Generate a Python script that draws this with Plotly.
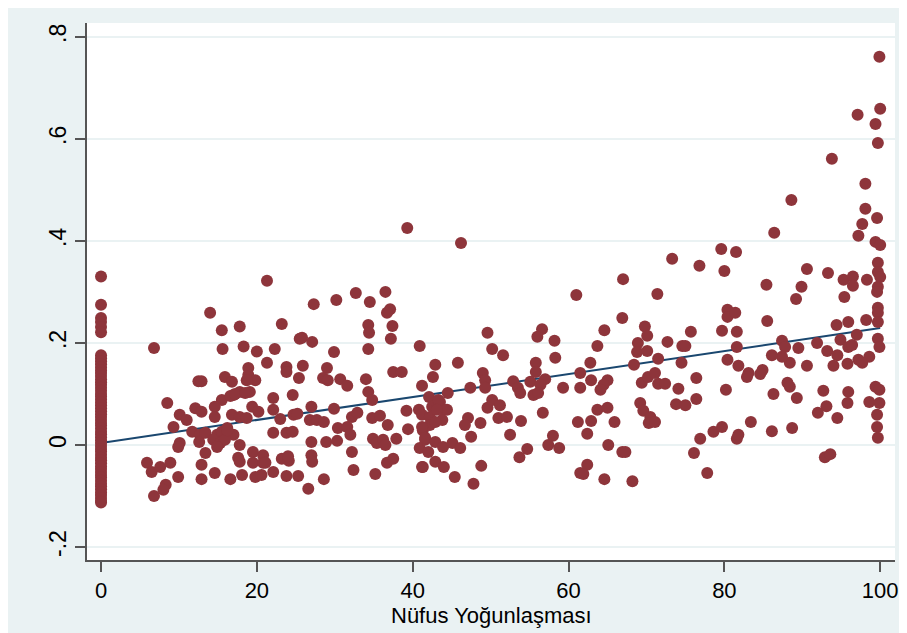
import plotly.graph_objects as go

# ---- data ----
# observations at x = 0
zero_y = [0.330, 0.275, 0.249, 0.241, 0.231, 0.221,
          0.176, 0.170, 0.164, 0.158, 0.152, 0.146, 0.141, 0.135, 0.129, 0.123,
          0.118, 0.112, 0.106, 0.100, 0.095, 0.089, 0.083, 0.078, 0.072, 0.066,
          0.060, 0.055, 0.049, 0.043, 0.038, 0.032, 0.026, 0.021, 0.015, 0.009,
          0.004, -0.002, -0.008, -0.013, -0.019, -0.025, -0.030, -0.036, -0.042,
          -0.047, -0.053, -0.059, -0.064, -0.070, -0.076, -0.081, -0.087, -0.093,
          -0.098, -0.104, -0.110, -0.113]

pts = [
    # x 5-26
    (14.0, 0.259), (15.5, 0.225), (17.8, 0.232), (23.2, 0.237), (6.8, 0.190), (15.6, 0.188),
    (18.3, 0.193), (20.0, 0.183), (22.3, 0.188), (25.5, 0.208), (21.3, 0.161), (23.8, 0.153),
    (23.8, 0.143), (18.9, 0.151), (18.9, 0.137), (19.8, 0.127), (18.7, 0.127), (12.5, 0.125),
    (12.9, 0.125), (15.9, 0.133), (16.8, 0.124), (25.4, 0.131), (22.1, 0.092), (24.6, 0.098),
    (17.8, 0.104), (19.1, 0.104), (17.0, 0.098), (15.5, 0.088), (8.5, 0.082), (12.1, 0.072),
    (12.9, 0.065), (14.6, 0.075), (14.6, 0.055), (16.8, 0.059), (17.8, 0.055), (18.7, 0.053),
    (19.4, 0.075), (20.2, 0.065), (22.1, 0.069), (23.0, 0.051), (24.7, 0.059), (10.1, 0.059),
    (11.0, 0.049), (9.3, 0.035), (11.7, 0.026), (12.7, 0.020), (12.6, 0.006), (10.1, 0.004),
    (9.9, -0.004), (13.4, 0.024), (14.9, 0.020), (15.5, 0.026), (14.4, 0.010), (15.3, 0.004),
    (16.2, 0.033), (17.0, 0.020), (15.9, 0.010), (17.8, 0.000), (22.1, 0.024), (23.8, 0.024),
    (24.6, 0.026), (13.4, -0.016), (12.9, -0.039), (5.9, -0.035), (6.5, -0.053), (7.6, -0.043),
    (8.9, -0.035), (9.9, -0.063), (12.9, -0.067), (14.6, -0.055), (16.6, -0.067), (18.1, -0.059),
    (17.6, -0.025), (17.8, -0.033), (19.5, -0.014), (20.8, -0.020), (19.5, -0.035), (20.8, -0.035),
    (19.8, -0.063), (20.6, -0.059), (22.1, -0.053), (23.2, -0.027), (24.1, -0.031), (23.8, -0.061),
    (25.3, -0.061), (8.3, -0.078), (8.0, -0.088), (6.8, -0.100), (16.6, 0.096), (17.2, 0.100),
    (18.5, 0.102), (14.9, -0.004), (16.2, 0.029), (21.1, -0.035),
    # x 21-42
    (21.3, 0.322), (27.3, 0.276), (30.2, 0.284), (32.7, 0.298), (34.5, 0.280), (36.5, 0.300),
    (37.1, 0.266), (36.7, 0.259), (34.3, 0.235), (34.4, 0.220), (37.4, 0.233), (37.2, 0.208),
    (25.8, 0.210), (27.1, 0.202), (29.9, 0.182), (34.3, 0.188), (40.9, 0.194), (25.9, 0.155),
    (29.0, 0.151), (28.5, 0.131), (29.1, 0.127), (30.7, 0.129), (31.6, 0.116), (34.0, 0.129),
    (37.5, 0.143), (38.6, 0.143), (41.2, 0.116), (34.3, 0.104), (34.8, 0.088), (42.1, 0.094),
    (25.2, 0.061), (27.0, 0.075), (26.8, 0.049), (27.7, 0.049), (28.6, 0.045), (29.9, 0.071),
    (30.4, 0.033), (31.6, 0.035), (32.2, 0.055), (32.9, 0.063), (34.8, 0.053), (35.8, 0.057),
    (36.8, 0.039), (39.2, 0.067), (39.4, 0.031), (40.8, 0.069), (41.2, 0.059), (41.3, 0.029),
    (27.0, 0.006), (28.9, 0.006), (30.3, 0.008), (32.0, 0.020), (34.9, 0.012), (35.4, 0.004),
    (36.2, 0.010), (36.5, 0.000), (37.9, 0.012), (40.9, -0.006), (41.6, 0.010), (24.0, -0.022),
    (27.0, -0.020), (27.1, -0.033), (32.2, -0.014), (36.7, -0.035), (37.5, -0.027), (41.2, -0.043),
    (28.6, -0.067), (32.4, -0.049), (35.2, -0.057), (26.6, -0.086), (39.3, 0.425),
    # x 41-62
    (46.2, 0.396), (61.0, 0.294), (49.6, 0.220), (50.2, 0.188), (51.6, 0.176), (56.6, 0.227),
    (56.0, 0.212), (58.2, 0.204), (58.3, 0.171), (42.9, 0.157), (45.8, 0.161), (42.6, 0.133),
    (55.8, 0.161), (55.8, 0.143), (49.0, 0.141), (49.3, 0.127), (49.3, 0.112), (47.4, 0.112),
    (52.9, 0.125), (53.5, 0.112), (53.8, 0.102), (55.1, 0.124), (57.0, 0.129), (56.4, 0.118),
    (55.5, 0.098), (56.1, 0.102), (59.3, 0.112), (61.5, 0.141), (61.5, 0.112), (44.5, 0.102),
    (43.5, 0.084), (43.9, 0.069), (42.5, 0.075), (42.2, 0.055), (43.8, 0.049), (42.2, 0.039),
    (41.2, 0.035), (41.6, 0.014), (42.9, 0.006), (43.9, -0.004), (45.1, 0.004), (46.1, -0.006),
    (42.0, -0.014), (49.6, 0.073), (50.2, 0.088), (51.2, 0.078), (51.0, 0.053), (52.1, 0.055),
    (47.1, 0.053), (46.7, 0.039), (48.7, 0.043), (53.9, 0.047), (56.7, 0.063), (52.5, 0.020),
    (47.5, 0.016), (58.0, 0.018), (57.4, 0.000), (58.8, -0.006), (54.7, -0.008), (53.7, -0.024),
    (41.3, -0.043), (42.9, -0.033), (44.0, -0.043), (48.8, -0.041), (45.4, -0.063), (47.8, -0.076),
    (61.5, -0.055), (61.2, 0.045), (43.3, 0.088), (44.4, 0.069), (43.1, 0.069), (42.9, 0.045),
    # x 61-81
    (67.0, 0.325), (73.3, 0.365), (76.8, 0.351), (79.6, 0.384), (80.0, 0.341), (71.4, 0.296),
    (66.9, 0.249), (69.8, 0.232), (70.1, 0.214), (64.6, 0.225), (63.7, 0.194), (68.9, 0.200),
    (68.8, 0.182), (70.1, 0.184), (72.7, 0.202), (74.6, 0.194), (75.0, 0.194), (75.7, 0.222),
    (79.7, 0.224), (80.4, 0.265), (80.4, 0.251), (71.5, 0.169), (74.5, 0.161), (68.4, 0.157),
    (80.4, 0.167), (62.8, 0.161), (62.9, 0.127), (65.0, 0.127), (64.5, 0.118), (64.1, 0.108),
    (69.4, 0.122), (70.2, 0.133), (71.1, 0.141), (71.5, 0.120), (72.4, 0.120), (74.1, 0.110),
    (76.4, 0.131), (76.4, 0.090), (73.8, 0.080), (75.0, 0.078), (80.2, 0.108), (69.2, 0.082),
    (69.6, 0.067), (70.5, 0.055), (70.3, 0.043), (71.1, 0.045), (63.7, 0.069), (65.0, 0.073),
    (62.9, 0.047), (65.9, 0.045), (62.4, 0.022), (65.1, 0.000), (66.9, -0.014), (67.3, -0.014),
    (76.9, 0.012), (78.6, 0.026), (79.7, 0.035), (76.1, -0.016), (62.4, -0.039), (61.9, -0.057),
    (64.6, -0.067), (68.2, -0.071), (77.8, -0.055),
    # x 80-100
    (100.0, 0.659), (97.1, 0.647), (99.4, 0.629), (99.7, 0.592), (93.8, 0.561), (98.1, 0.512),
    (88.6, 0.480), (98.1, 0.463), (99.6, 0.445), (97.7, 0.433), (97.2, 0.410), (86.4, 0.416),
    (99.4, 0.398), (100.0, 0.392), (81.5, 0.378), (99.7, 0.357), (99.7, 0.339), (90.6, 0.345),
    (93.3, 0.337), (95.3, 0.324), (96.5, 0.330), (96.5, 0.312), (98.3, 0.324), (99.7, 0.310),
    (99.6, 0.300), (85.4, 0.314), (89.9, 0.310), (89.2, 0.286), (95.4, 0.290), (99.7, 0.269),
    (99.7, 0.259), (99.7, 0.241), (98.2, 0.245), (95.9, 0.241), (94.4, 0.235), (81.4, 0.259),
    (81.6, 0.222), (85.5, 0.243), (97.0, 0.216), (94.9, 0.206), (99.7, 0.208), (99.9, 0.192),
    (81.6, 0.192), (87.4, 0.204), (87.8, 0.192), (89.5, 0.190), (91.9, 0.200), (93.2, 0.184),
    (94.5, 0.176), (95.9, 0.192), (96.4, 0.196), (98.6, 0.173), (97.2, 0.167), (97.7, 0.161),
    (95.8, 0.159), (94.0, 0.155), (90.6, 0.155), (88.4, 0.161), (87.4, 0.173), (86.1, 0.176),
    (81.8, 0.155), (83.1, 0.141), (84.9, 0.147), (82.9, 0.133), (84.6, 0.139), (86.3, 0.100),
    (88.1, 0.122), (88.4, 0.114), (89.3, 0.092), (92.7, 0.106), (95.9, 0.104), (95.8, 0.082),
    (99.4, 0.114), (99.9, 0.108), (98.6, 0.084), (99.9, 0.082), (99.6, 0.059), (99.6, 0.035),
    (99.7, 0.014), (93.1, 0.076), (92.0, 0.063), (94.5, 0.053), (81.6, 0.012), (81.8, 0.020),
    (83.4, 0.045), (86.1, 0.027), (88.7, 0.033), (92.9, -0.024), (93.6, -0.018), (99.9, 0.761),
    (100.0, 0.329),
]

scatter_x = [0.0] * len(zero_y) + [p[0] for p in pts]
scatter_y = zero_y + [p[1] for p in pts]

fit_x = [0, 100]
fit_y = [0.004, 0.229]

x_ticks = [0, 20, 40, 60, 80, 100]
y_ticks = [-0.2, 0, 0.2, 0.4, 0.6, 0.8]
y_ticktext = ["-.2", "0", ".2", ".4", ".6", ".8"]
x_title = "Nüfus Yoğunlaşması"

FONT = "Liberation Sans, Arial, sans-serif"
BG = "#EAF2F3"

fig = go.Figure()
fig.add_trace(go.Scatter(x=fit_x, y=fit_y, mode="lines",
                         line=dict(color="#1A476F", width=2), showlegend=False,
                         hoverinfo="skip"))
fig.add_trace(go.Scatter(x=scatter_x, y=scatter_y, mode="markers",
                         marker=dict(size=12, color="#8E353B", line=dict(width=0)),
                         showlegend=False))

# page shows the figure offset by the 8px body margin
fig.update_layout(
    width=899, height=625,
    margin=dict(l=79, r=12, t=15, b=73),
    paper_bgcolor=BG, plot_bgcolor="white",
    font=dict(family=FONT, size=23, color="black"),
    annotations=[dict(text=x_title, xref="paper", yref="paper", x=0.5, y=-55 / 537,
                      xanchor="center", yanchor="middle", showarrow=False,
                      font=dict(size=22, family=FONT, color="black"))],
)
fig.update_xaxes(range=[-1.8, 101.9], tickvals=x_ticks, ticks="outside", ticklen=10,
                 tickwidth=1.5, tickcolor="#555555", showline=True, linecolor="#555555",
                 linewidth=1.5, showgrid=False, zeroline=False, automargin=False,
                 tickfont=dict(size=22, family=FONT))
fig.update_yaxes(range=[-0.2255, 0.827], tickvals=y_ticks, ticktext=y_ticktext,
                 tickangle=-90, ticks="outside", ticklen=10, tickwidth=1.5,
                 tickcolor="#555555", showline=True, linecolor="#555555", linewidth=1.5,
                 showgrid=True, gridcolor=BG, gridwidth=2, zeroline=False, automargin=False,
                 tickfont=dict(size=23, family=FONT))

fig.write_html("out.html")
